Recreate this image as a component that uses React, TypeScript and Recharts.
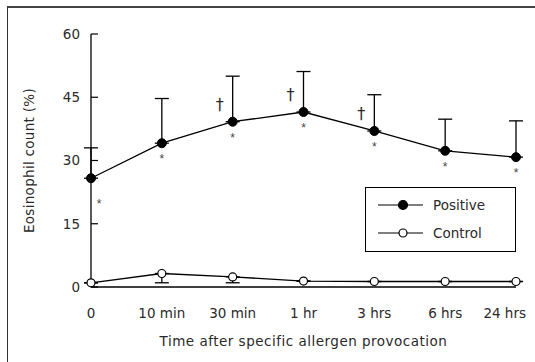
import React from "react";
import { LineChart, Line, XAxis, YAxis, ErrorBar, LabelList, Legend } from "recharts";

const timePoints = ["0", "10 min", "30 min", "1 hr", "3 hrs", "6 hrs", "24 hrs"];
const positiveMean = [25.8, 34.1, 39.2, 41.5, 37.0, 32.3, 30.8];
const positiveSd = [7.2, 10.6, 10.8, 9.6, 8.6, 7.5, 8.6];
const positiveStar = [true, true, true, true, true, true, true];
const positiveDagger = [false, false, true, true, true, false, false];
const controlMean = [1.0, 3.2, 2.4, 1.4, 1.3, 1.3, 1.3];
const controlSd = [0, 2.2, 1.4, 0, 0, 0, 0];
const yTicks = [0, 15, 30, 45, 60];
const legendOrder = ["positive", "control"];

const FONT = "'DejaVu Sans', sans-serif";
const INK = "#000";
const TEXT = "#2a2a2a";

const data = timePoints.map((t, i) => ({
  time: t,
  positive: positiveMean[i],
  positiveErr: [0, positiveSd[i]],
  control: controlMean[i],
  controlErr: [controlSd[i], 0],
  star: positiveStar[i],
  dagger: positiveDagger[i],
}));

const legendMarker: Record<string, string> = { positive: INK, control: "#fff" };

function YTick(props: { x?: number; y?: number; payload?: { value: number } }) {
  const { x = 0, y = 0, payload } = props;
  return (
    <g>
      <line x1={x} x2={x + 7} y1={y} y2={y} stroke={INK} strokeWidth={1.2} />
      <text x={x - 11} y={y} dy="0.36em" textAnchor="end" fontFamily={FONT} fontSize={13.5} fill={TEXT}>
        {payload?.value}
      </text>
    </g>
  );
}

function XTick(props: { x?: number; y?: number; index?: number; payload?: { value: string } }) {
  const { x = 0, y = 0, index = 0, payload } = props;
  // last label is pulled in so it stays inside the frame
  const last = index === timePoints.length - 1;
  return (
    <text
      x={last ? x + 10 : x}
      y={y + 26}
      dy="0.36em"
      textAnchor={last ? "end" : "middle"}
      fontFamily={FONT}
      fontSize={13.5}
      fill={TEXT}
    >
      {payload?.value}
    </text>
  );
}

// stars under each positive point, daggers left of the error bar
function Marks(props: { x?: number; y?: number; index?: number }) {
  const { x = 0, y = 0, index = 0 } = props;
  const d = data[index];
  const sx = index === 0 ? x + 8 : x;
  const sy = index === 0 ? y + 24 : y + 14;
  return (
    <g>
      {d.star && (
        <text x={sx} y={sy + 6} textAnchor="middle" fontFamily="'Liberation Sans', sans-serif" fontSize={12} fill="#444">
          *
        </text>
      )}
      {d.dagger && (
        <text x={x - 13} y={y - 12} textAnchor="middle" fontFamily={FONT} fontSize={16} fill={TEXT}>
          †
        </text>
      )}
    </g>
  );
}

function LegendBox(props: { payload?: { value: string; dataKey?: string }[] }) {
  const items = [...(props.payload ?? [])].sort(
    (a, b) => legendOrder.indexOf(String(a.dataKey)) - legendOrder.indexOf(String(b.dataKey))
  );
  return (
    <div style={{ width: 151, height: 65, border: "1px solid #000", background: "#fff", boxSizing: "border-box" }}>
      <svg width={151} height={65} style={{ display: "block" }}>
        {items.map((item, i) => {
          const cy = 17 + i * 28;
          const key = String(item.dataKey);
          return (
            <g key={key}>
              <line x1={12} x2={57} y1={cy} y2={cy} stroke={INK} strokeWidth={1.2} />
              <circle cx={37} cy={cy} r={key === "positive" ? 4.5 : 4} fill={legendMarker[key]} stroke={INK} strokeWidth={1.2} />
              <text x={67} y={cy} dy="0.36em" fontFamily={FONT} fontSize={13.5} fill={TEXT}>
                {item.value}
              </text>
            </g>
          );
        })}
      </svg>
    </div>
  );
}

export default function App() {
  return (
    <div style={{ position: "absolute", left: 0, top: 0, width: 535, height: 362, overflow: "hidden", background: "#fff" }}>
      <div
        style={{
          position: "absolute",
          left: 7,
          top: 6,
          width: 560,
          height: 400,
          borderLeft: "1.5px solid #333",
          borderTop: "2px solid #444",
        }}
      />
      <div style={{ position: "absolute", left: 0, top: 0 }}>
        <LineChart width={535} height={362} data={data} margin={{ top: 34, right: 19, bottom: 0, left: 31 }}>
          <XAxis
            dataKey="time"
            height={75}
            tickSize={0}
            tickMargin={0}
            tickLine={false}
            axisLine={{ stroke: INK, strokeWidth: 1.3 }}
            tick={<XTick />}
            interval={0}
            label={{
              content: (p: { viewBox?: { x: number; y: number; width: number } }) => {
                const vb = p.viewBox ?? { x: 0, y: 0, width: 0 };
                return (
                  <text
                    x={vb.x + vb.width / 2}
                    y={vb.y + 54}
                    dy="0.36em"
                    textAnchor="middle"
                    fontFamily={FONT}
                    fontSize={13.5}
                    letterSpacing={0.5}
                    fill={TEXT}
                  >
                    Time after specific allergen provocation
                  </text>
                );
              },
            }}
          />
          <YAxis
            width={60}
            domain={[0, 60]}
            ticks={yTicks}
            tickSize={0}
            tickMargin={0}
            tickLine={false}
            axisLine={{ stroke: INK, strokeWidth: 1.3 }}
            tick={<YTick />}
            label={{
              content: (p: { viewBox?: { x: number; y: number; height: number } }) => {
                const vb = p.viewBox ?? { x: 0, y: 0, height: 0 };
                const cx = vb.x - 2;
                const cy = vb.y + vb.height / 2;
                return (
                  <text
                    x={cx}
                    y={cy}
                    dy="0.36em"
                    textAnchor="middle"
                    transform={`rotate(-90 ${cx} ${cy})`}
                    fontFamily={FONT}
                    fontSize={13.5}
                    letterSpacing={0.3}
                    fill={TEXT}
                  >
                    Eosinophil count  (%)
                  </text>
                );
              },
            }}
          />
          <Legend
            layout="vertical"
            align="center"
            verticalAlign="middle"
            content={<LegendBox />}
            wrapperStyle={{ left: 365, top: 187, width: 151, height: 65 }}
          />
          <Line
            name="Positive"
            dataKey="positive"
            stroke={INK}
            strokeWidth={1.3}
            isAnimationActive={false}
            dot={{ r: 4.5, fill: INK, stroke: INK, strokeWidth: 1 }}
            activeDot={false}
          >
            <ErrorBar dataKey="positiveErr" width={7} stroke={INK} strokeWidth={1.3} direction="y" />
            <LabelList dataKey="positive" content={<Marks />} />
          </Line>
          <Line
            name="Control"
            dataKey="control"
            stroke={INK}
            strokeWidth={1.3}
            isAnimationActive={false}
            dot={{ r: 4, fill: "#fff", stroke: INK, strokeWidth: 1.2 }}
            activeDot={false}
          >
            <ErrorBar dataKey="controlErr" width={7} stroke={INK} strokeWidth={1.3} direction="y" />
          </Line>
        </LineChart>
      </div>
    </div>
  );
}
